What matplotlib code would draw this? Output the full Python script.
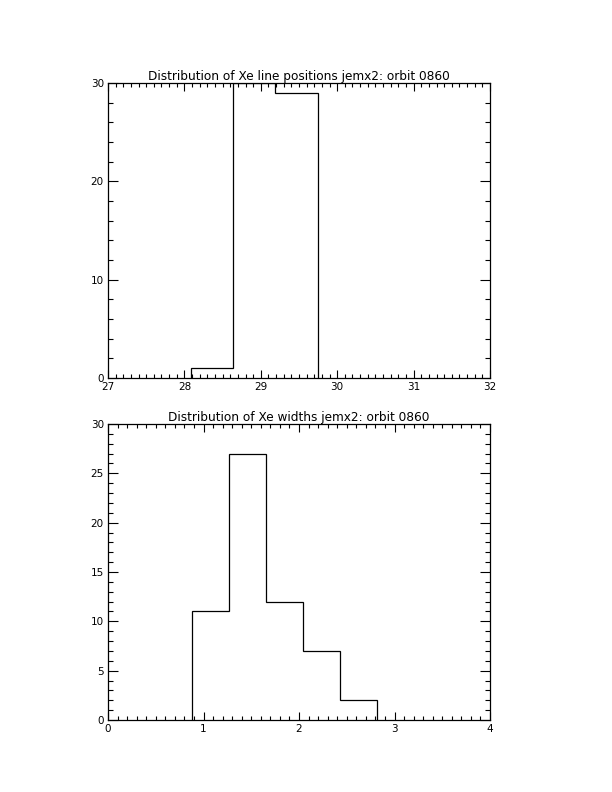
import numpy as np
import matplotlib
matplotlib.use('Agg')
import matplotlib.pyplot as plt
from matplotlib.ticker import MultipleLocator

# Top panel: Xe line positions
pos_edges = [28.08, 28.635, 29.19, 29.745]
pos_counts = [1, 30, 29]

# Bottom panel: Xe widths
width_edges = [0.877, 1.265, 1.653, 2.041, 2.429, 2.817]
width_counts = [11, 27, 12, 7, 2]

W, H = 612, 792
fig = plt.figure(figsize=(W / 100, H / 100), dpi=100)


def px_axes(left, top, right, bottom):
    return fig.add_axes([left / W, 1 - bottom / H, (right - left) / W, (bottom - top) / H])


def draw_hist(ax, edges, counts):
    # IDL psym=10 style: outline steps down to zero at both ends
    xs = [edges[0]]
    ys = [0]
    for i, c in enumerate(counts):
        xs += [edges[i], edges[i + 1]]
        ys += [c, c]
    xs.append(edges[-1])
    ys.append(0)
    ax.plot(xs, ys, color='black', lw=0.9, clip_on=True, solid_joinstyle='miter')


def style_axes(ax, xmaj, xmin, ymaj, ymin):
    ax.xaxis.set_major_locator(MultipleLocator(xmaj))
    ax.xaxis.set_minor_locator(MultipleLocator(xmin))
    ax.yaxis.set_major_locator(MultipleLocator(ymaj))
    ax.yaxis.set_minor_locator(MultipleLocator(ymin))
    ax.tick_params(which='both', direction='in', top=True, right=True, width=0.8,
                   labelsize=7.5, pad=3)
    ax.tick_params(axis='x', which='major', length=6)
    ax.tick_params(axis='x', which='minor', length=3)
    ax.tick_params(axis='y', which='major', length=7.5)
    ax.tick_params(axis='y', which='minor', length=3.8)
    for s in ax.spines.values():
        s.set_linewidth(0.9)


ax1 = px_axes(108, 83, 490, 378)
draw_hist(ax1, pos_edges, pos_counts)
ax1.set_xlim(27, 32)
ax1.set_ylim(0, 30)
style_axes(ax1, 1, 0.1, 10, 2)
ax1.set_title('Distribution of Xe line positions jemx2: orbit 0860', fontsize=8.7, pad=1.5)

ax2 = px_axes(108, 424, 490, 720)
draw_hist(ax2, width_edges, width_counts)
ax2.set_xlim(0, 4)
ax2.set_ylim(0, 30)
style_axes(ax2, 1, 0.1, 5, 1)
ax2.set_title('Distribution of Xe widths jemx2: orbit 0860', fontsize=8.7, pad=1.5)

fig.savefig('out.png', dpi=100)
